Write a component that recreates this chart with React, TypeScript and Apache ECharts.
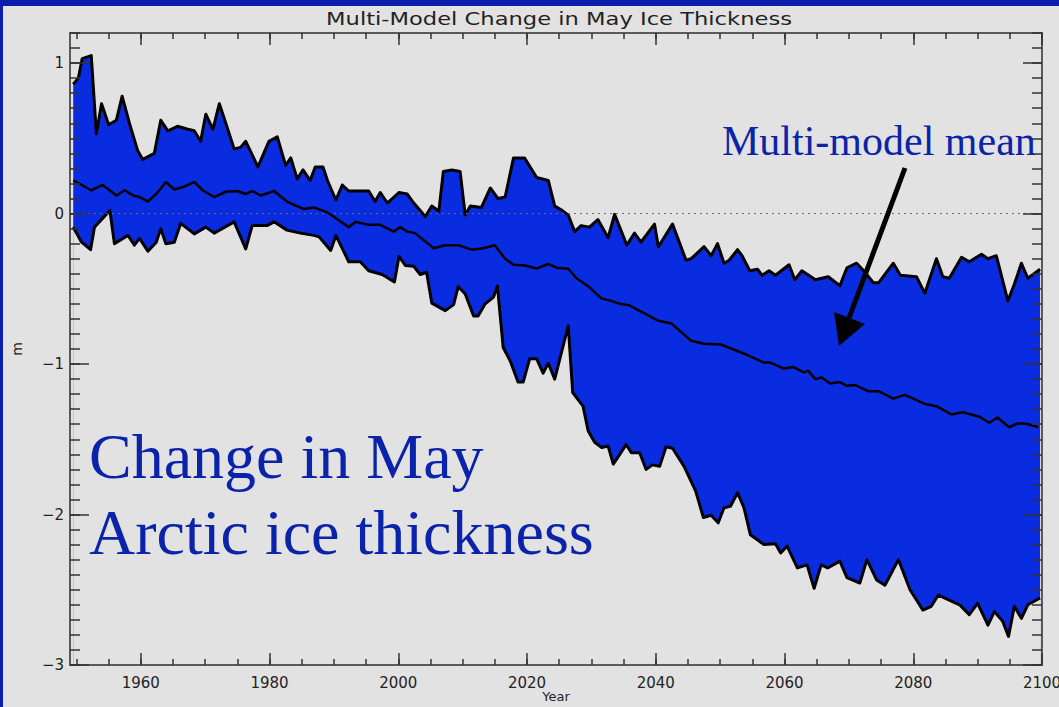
import React, { useEffect, useRef } from 'react';
import * as echarts from 'echarts';

// ---- Data ----
const upperYears = [
  1949.5, 1950.3, 1950.9, 1952.3, 1953.1, 1953.9, 1955.0, 1956.2, 1957.1, 1958.3, 1959.5, 1960.3,
  1962.1, 1963.1, 1964.2, 1965.7, 1967.3, 1968.3, 1969.3, 1970.1, 1971.2, 1972.2, 1972.9, 1974.5,
  1975.5, 1976.3, 1978.2, 1979.9, 1981.2, 1982.5, 1983.3, 1984.3, 1985.2, 1986.3, 1987.1, 1988.3,
  1989.0, 1990.3, 1991.3, 1992.3, 1995.4, 1996.4, 1997.2, 1998.3, 2000.1, 2001.4, 2002.4, 2004.2,
  2005.2, 2006.3, 2007.0, 2008.3, 2009.6, 2010.4, 2011.2, 2012.9, 2014.3, 2015.5, 2016.6, 2017.9,
  2019.6, 2021.5, 2023.3, 2024.3, 2025.5, 2026.4, 2027.4, 2028.4, 2029.7, 2031.0, 2032.6, 2033.6,
  2035.5, 2036.7, 2037.7, 2039.8, 2040.4, 2042.6, 2044.7, 2045.5, 2047.5, 2048.6, 2049.6, 2050.6,
  2051.4, 2052.7, 2053.4, 2054.6, 2055.8, 2056.5, 2057.6, 2058.6, 2060.7, 2061.6, 2062.7, 2064.8,
  2066.8, 2068.6, 2069.7, 2071.2, 2072.3, 2073.8, 2074.6, 2076.9, 2078.0, 2080.5, 2081.8, 2083.6,
  2084.6, 2085.6, 2087.5, 2088.7, 2090.6, 2091.6, 2092.9, 2094.7, 2095.7, 2096.8, 2097.8, 2099.7,
];
const upperValues = [
  0.86, 0.9, 1.03, 1.05, 0.53, 0.73, 0.59, 0.62, 0.78, 0.59, 0.42, 0.36,
  0.4, 0.62, 0.55, 0.58, 0.56, 0.55, 0.48, 0.66, 0.56, 0.73, 0.64, 0.43,
  0.44, 0.48, 0.31, 0.48, 0.51, 0.32, 0.37, 0.23, 0.29, 0.22, 0.31, 0.31,
  0.22, 0.09, 0.19, 0.15, 0.15, 0.08, 0.14, 0.07, 0.14, 0.13, 0.07, -0.02,
  0.05, 0.015, 0.28, 0.29, 0.28, -0.01, 0.05, 0.04, 0.17, 0.1, 0.11, 0.37,
  0.37, 0.24, 0.22, 0.05, 0.02, -0.01, -0.12, -0.08, -0.09, -0.04, -0.16, -0.005,
  -0.21, -0.13, -0.19, -0.07, -0.22, -0.07, -0.31, -0.3, -0.22, -0.28, -0.2, -0.33,
  -0.31, -0.24, -0.28, -0.38, -0.37, -0.41, -0.38, -0.41, -0.34, -0.44, -0.38, -0.44,
  -0.42, -0.48, -0.36, -0.33, -0.38, -0.46, -0.46, -0.33, -0.41, -0.42, -0.53, -0.3,
  -0.42, -0.43, -0.29, -0.32, -0.27, -0.3, -0.28, -0.58, -0.47, -0.33, -0.43, -0.37,
];

const meanYears = [
  1949.5, 1952.3, 1954.1, 1956.2, 1957.5, 1958.8, 1959.8, 1961.1, 1962.4, 1963.9, 1965.2, 1966.8,
  1968.3, 1969.6, 1971.4, 1973.2, 1975.0, 1976.3, 1977.3, 1978.6, 1980.7, 1982.7, 1985.3, 1986.9,
  1988.9, 1992.3, 1993.4, 1995.4, 1997.2, 1999.3, 2000.3, 2001.4, 2002.6, 2005.5, 2007.3, 2009.3,
  2011.4, 2013.2, 2015.0, 2016.6, 2017.9, 2019.7, 2021.5, 2023.3, 2024.6, 2026.4, 2027.7, 2029.7,
  2031.6, 2033.1, 2034.4, 2035.9, 2040.3, 2042.4, 2045.5, 2047.5, 2050.1, 2052.2, 2054.5, 2056.8,
  2057.8, 2059.9, 2061.4, 2063.0, 2063.7, 2064.8, 2065.8, 2067.1, 2068.6, 2069.7, 2071.0, 2073.0,
  2074.6, 2076.9, 2078.7, 2081.8, 2083.6, 2085.9, 2087.7, 2090.3, 2091.8, 2093.1, 2094.9, 2096.2,
  2097.5, 2099.4,
];
const meanValues = [
  0.22, 0.155, 0.19, 0.12, 0.155, 0.12, 0.11, 0.08, 0.13, 0.21, 0.16, 0.18,
  0.21, 0.155, 0.11, 0.145, 0.15, 0.13, 0.15, 0.12, 0.15, 0.08, 0.03, 0.04,
  0.01, -0.09, -0.055, -0.075, -0.075, -0.12, -0.09, -0.12, -0.13, -0.23, -0.21, -0.21,
  -0.24, -0.23, -0.21, -0.3, -0.34, -0.345, -0.365, -0.335, -0.36, -0.367, -0.43, -0.49,
  -0.565, -0.58, -0.6, -0.61, -0.71, -0.73, -0.845, -0.865, -0.87, -0.905, -0.945, -0.99,
  -0.99, -1.03, -1.02, -1.055, -1.045, -1.1, -1.09, -1.13, -1.12, -1.145, -1.14, -1.18,
  -1.18, -1.23, -1.205, -1.265, -1.28, -1.335, -1.32, -1.35, -1.39, -1.355, -1.42, -1.395,
  -1.395, -1.42,
];

const lowerYears = [
  1949.5, 1950.8, 1952.2, 1952.8, 1955.2, 1955.9, 1958.0, 1959.0, 1959.8, 1961.1, 1962.4, 1963.1,
  1963.9, 1965.2, 1966.2, 1968.3, 1970.1, 1971.4, 1974.5, 1976.3, 1977.3, 1979.6, 1980.7, 1982.7,
  1984.8, 1986.9, 1987.7, 1989.5, 1990.3, 1992.3, 1994.1, 1995.4, 1997.5, 1999.4, 2000.1, 2001.1,
  2002.4, 2003.4, 2004.4, 2005.2, 2007.3, 2008.6, 2009.3, 2010.4, 2011.7, 2012.4, 2013.5, 2014.8,
  2015.4, 2016.3, 2017.4, 2018.6, 2019.4, 2020.4, 2021.5, 2022.5, 2023.3, 2024.3, 2026.4, 2027.1,
  2028.7, 2029.5, 2030.5, 2031.6, 2032.6, 2033.4, 2035.4, 2036.2, 2037.5, 2038.5, 2039.5, 2040.6,
  2041.6, 2042.6, 2044.4, 2046.2, 2047.4, 2048.6, 2049.7, 2050.6, 2051.6, 2052.7, 2053.7, 2054.7,
  2056.8, 2058.6, 2059.4, 2060.4, 2062.0, 2063.5, 2064.6, 2065.7, 2066.7, 2068.6, 2069.7, 2071.7,
  2072.8, 2074.3, 2075.6, 2077.7, 2079.5, 2081.5, 2082.8, 2083.9, 2087.2, 2088.7, 2090.0, 2091.6,
  2092.6, 2093.9, 2094.8, 2095.7, 2096.8, 2097.8, 2099.7,
];
const lowerValues = [
  -0.09, -0.19, -0.24, -0.09, 0.02, -0.2, -0.145, -0.21, -0.165, -0.25, -0.19, -0.1,
  -0.2, -0.19, -0.065, -0.135, -0.09, -0.13, -0.055, -0.235, -0.08, -0.08, -0.055, -0.11,
  -0.13, -0.145, -0.155, -0.245, -0.145, -0.32, -0.32, -0.38, -0.405, -0.455, -0.285, -0.345,
  -0.35, -0.405, -0.39, -0.595, -0.645, -0.605, -0.485, -0.535, -0.68, -0.68, -0.6, -0.555,
  -0.48, -0.89, -0.98, -1.12, -1.12, -0.965, -0.965, -1.06, -0.995, -1.1, -0.745, -1.19,
  -1.28, -1.445, -1.52, -1.555, -1.545, -1.665, -1.535, -1.59, -1.59, -1.7, -1.67, -1.68,
  -1.55, -1.56, -1.68, -1.845, -2.02, -2.005, -2.055, -1.955, -1.945, -1.855, -1.955, -2.135,
  -2.2, -2.195, -2.255, -2.21, -2.355, -2.335, -2.49, -2.335, -2.355, -2.31, -2.42, -2.455,
  -2.3, -2.435, -2.47, -2.3, -2.5, -2.635, -2.61, -2.535, -2.6, -2.665, -2.59, -2.735,
  -2.645, -2.71, -2.81, -2.61, -2.69, -2.6, -2.555,
];

const xMajorTicks = [1960, 1980, 2000, 2020, 2040, 2060, 2080, 2100];
const yMajorTicks = [-3, -2, -1, 0, 1];
const X_MIN = 1949;
const X_MAX = 2100;
const Y_MIN = -3;
const Y_MAX = 1.2;

const xMinorTicks: number[] = [];
for (let y = 1950; y <= 2100; y += 5) xMinorTicks.push(y);
const yMinorTicks: number[] = [];
for (let i = -30; i <= 12; i++) yMinorTicks.push(Math.round(i) / 10);

const zip = (xs: number[], ys: number[]) => xs.map((x, i) => [x, ys[i]]);

const GRAY = '#e2e2e2';
const BAND = '#0a2ce0';
const SLIDE = '#0a1eab';
const TEXTBLUE = '#0b23aa';

export default function App() {
  const ref = useRef<HTMLDivElement>(null);
  useEffect(() => {
    const chart = echarts.init(ref.current!, null, { renderer: 'svg' });
    const axisLineStyle = { color: '#5a5a5a', width: 2 };
    const tickStyle = { color: '#333', width: 1.5 };
    const labelFont = { color: '#222', fontSize: 15, fontFamily: 'DejaVu Sans' };
    const xBase: any = { type: 'value', min: X_MIN, max: X_MAX, splitLine: { show: false }, z: 10 };
    const yBase: any = { type: 'value', min: Y_MIN, max: Y_MAX, splitLine: { show: false }, z: 10 };
    const minus = (v: number) => (v < 0 ? '\u2212' + Math.abs(v) : String(v));

    const option: any = {
      animation: false,
      backgroundColor: GRAY,
      grid: { left: 70, right: 17, top: 33, bottom: 42, containLabel: false, outerBoundsMode: 'none' },
      xAxis: [
        {
          ...xBase,
          position: 'bottom',
          axisLine: { show: true, onZero: false, lineStyle: axisLineStyle },
          axisTick: { show: true, inside: true, length: 12, customValues: xMajorTicks, lineStyle: tickStyle },
          axisLabel: { show: true, customValues: xMajorTicks, margin: 10, formatter: (v: number) => String(v), ...labelFont },
          name: 'Year',
          nameLocation: 'middle',
          nameGap: 25,
          nameMoveOverlap: false,
          nameTextStyle: { ...labelFont, fontSize: 13 },
        },
        {
          ...xBase,
          position: 'bottom',
          axisLine: { show: false, onZero: false },
          axisTick: { show: true, inside: true, length: 6, customValues: xMinorTicks, lineStyle: tickStyle },
          axisLabel: { show: false },
        },
        {
          ...xBase,
          position: 'top',
          axisLine: { show: true, onZero: false, lineStyle: axisLineStyle },
          axisTick: { show: true, inside: true, length: 12, customValues: xMajorTicks, lineStyle: tickStyle },
          axisLabel: { show: false },
        },
        {
          ...xBase,
          position: 'top',
          axisLine: { show: false, onZero: false },
          axisTick: { show: true, inside: true, length: 6, customValues: xMinorTicks, lineStyle: tickStyle },
          axisLabel: { show: false },
        },
      ],
      yAxis: [
        {
          ...yBase,
          position: 'left',
          axisLine: { show: true, onZero: false, lineStyle: axisLineStyle },
          axisTick: { show: true, inside: true, length: 19, customValues: yMajorTicks, lineStyle: tickStyle },
          axisLabel: { show: true, customValues: yMajorTicks, margin: 6, formatter: minus, ...labelFont },
          name: 'm',
          nameLocation: 'middle',
          nameGap: 46,
          nameTextStyle: { ...labelFont, fontSize: 14 },
        },
        {
          ...yBase,
          position: 'left',
          axisLine: { show: false, onZero: false },
          axisTick: { show: true, inside: true, length: 10, customValues: yMinorTicks, lineStyle: tickStyle },
          axisLabel: { show: false },
        },
        {
          ...yBase,
          position: 'right',
          axisLine: { show: true, onZero: false, lineStyle: axisLineStyle },
          axisTick: { show: true, inside: true, length: 19, customValues: yMajorTicks, lineStyle: tickStyle },
          axisLabel: { show: false },
        },
        {
          ...yBase,
          position: 'right',
          axisLine: { show: false, onZero: false },
          axisTick: { show: true, inside: true, length: 10, customValues: yMinorTicks, lineStyle: tickStyle },
          axisLabel: { show: false },
        },
      ],
      series: [
        {
          name: 'Upper',
          type: 'line',
          data: zip(upperYears, upperValues),
          symbol: 'none',
          z: 2,
          lineStyle: { color: '#000', width: 3, join: 'round' },
          areaStyle: { color: BAND, opacity: 1, origin: 'start' },
          silent: true,
        },
        {
          name: 'Lower',
          type: 'line',
          data: zip(lowerYears, lowerValues),
          symbol: 'none',
          z: 3,
          lineStyle: { color: '#000', width: 3, join: 'round' },
          areaStyle: { color: GRAY, opacity: 1, origin: 'start' },
          silent: true,
        },
        {
          name: 'Zero',
          type: 'line',
          data: [],
          z: 4,
          silent: true,
          markLine: {
            silent: true,
            symbol: 'none',
            label: { show: false },
            lineStyle: { color: '#6a6a6a', width: 1, type: [2, 4] },
            data: [{ yAxis: 0 }],
          },
        },
        {
          name: 'Multi-model mean',
          type: 'line',
          data: zip(meanYears, meanValues),
          symbol: 'none',
          z: 5,
          lineStyle: { color: '#000', width: 2.5, join: 'round' },
          silent: true,
        },
      ],
      graphic: [
        { type: 'rect', z: 100, shape: { x: 0, y: 0, width: 1059, height: 6 }, style: { fill: SLIDE } },
        { type: 'rect', z: 100, shape: { x: 0, y: 0, width: 3, height: 707 }, style: { fill: SLIDE } },
        {
          type: 'text', z: 100, x: 559, y: 19, scaleX: 1.33,
          style: { text: 'Multi-Model Change in May Ice Thickness', fill: '#222', font: '17px "DejaVu Sans"', align: 'center', verticalAlign: 'middle' },
        },
        {
          type: 'text', z: 100, x: 89, y: 456,
          style: { text: 'Change in May', fill: TEXTBLUE, font: '64px "Liberation Serif"', align: 'left', verticalAlign: 'middle' },
        },
        {
          type: 'text', z: 100, x: 89, y: 532,
          style: { text: 'Arctic ice thickness', fill: TEXTBLUE, font: '64px "Liberation Serif"', align: 'left', verticalAlign: 'middle' },
        },
        {
          type: 'text', z: 100, x: 722, y: 141,
          style: { text: 'Multi-model mean', fill: TEXTBLUE, font: '42px "Liberation Serif"', align: 'left', verticalAlign: 'middle' },
        },
        {
          type: 'line', z: 100,
          shape: { x1: 905, y1: 168, x2: 849, y2: 318 },
          style: { stroke: '#000', lineWidth: 5 },
        },
        {
          type: 'polygon', z: 100,
          shape: { points: [[839, 346], [834, 312], [865, 324]] },
          style: { fill: '#000' },
        },
      ],
    };
    chart.setOption(option);
    return () => chart.dispose();
  }, []);
  return <div ref={ref} style={{ position: 'fixed', left: 0, top: 0, width: 1059, height: 707 }} />;
}
